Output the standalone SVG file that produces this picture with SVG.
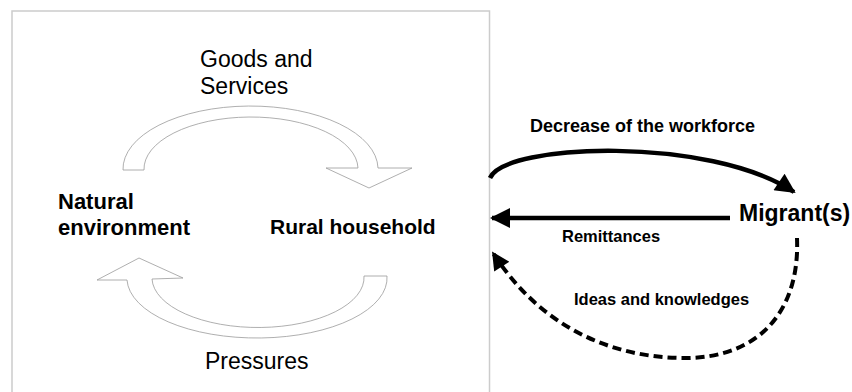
<svg xmlns="http://www.w3.org/2000/svg" width="852" height="392" viewBox="0 0 852 392">
  <style>
    .frame { fill: none; stroke: #cccccc; stroke-width: 1.5; }
    .cycle { fill: #ffffff; stroke: #9a9a9a; stroke-width: 0.8; stroke-linejoin: miter; }
    .lbl { font-family: "Liberation Sans", Arial, Helvetica, sans-serif; fill: #000000; }
    .plain { font-size: 23px; }
    .node { font-size: 23px; font-weight: bold; }
    .small { font-size: 16.5px; font-weight: bold; }
    .flow { fill: none; stroke: #000000; stroke-width: 4.5; stroke-linecap: butt; }
    .dashed { stroke-dasharray: 9 5; stroke-width: 4; }
  </style>
  <defs>
    <marker id="head" viewBox="0 0 10 10" refX="9" refY="5" markerUnits="userSpaceOnUse" markerWidth="28" markerHeight="20" orient="auto">
      <path d="M0,0 L10,5 L0,10 Z" fill="#000000"/>
    </marker>
    <marker id="headDash" viewBox="0 0 10 10" refX="9" refY="5" markerUnits="userSpaceOnUse" markerWidth="24" markerHeight="18" orient="auto">
      <path d="M0,0 L10,5 L0,10 Z" fill="#000000"/>
    </marker>
  </defs>

  <!-- household system frame -->
  <rect class="frame" x="12" y="11" width="477.5" height="400"/>

  <!-- inner exchange cycle -->
  <g id="cycle-goods">
    <path class="cycle" d="M123,170 A127.5,63 0 0 1 378,168 L412,168 L369,188 L326,168 L358,168 A107,52 0 0 0 144,170 Z"/>
  </g>
  <g id="cycle-pressures">
    <path class="cycle" d="M387,276 A130,60 0 0 1 127,280 L97,280 L139,258 L183,278 L152,279 A106,50 0 0 0 364,276 Z"/>
  </g>

  <g id="label-goods">
    <text class="lbl plain" x="200" y="67">Goods and</text>
    <text class="lbl plain" x="200" y="94">Services</text>
  </g>
  <g id="label-pressures">
    <text class="lbl plain" x="205" y="369">Pressures</text>
  </g>

  <g id="natural-environment">
    <text class="lbl node" x="58" y="209" style="font-size:22px">Natural</text>
    <text class="lbl node" x="58" y="235" style="font-size:22px">environment</text>
  </g>
  <g id="rural-household">
    <text class="lbl node" x="270" y="234" style="font-size:21px">Rural household</text>
  </g>
  <g id="migrants">
    <text class="lbl node" x="739" y="221">Migrant(s)</text>
  </g>

  <!-- flows between household and migrants -->
  <g id="connectors">
    <path class="flow" d="M490,178 C505,143 710,136 794,192" marker-end="url(#head)"/>
    <path class="flow" d="M730,218 L492,218" marker-end="url(#head)"/>
    <path class="flow dashed" d="M797,238 C800,310 760,358 685,358 C610,358 540,326 493,253" marker-end="url(#headDash)"/>
    <text class="lbl small" x="530" y="132" style="font-size:18px">Decrease of the workforce</text>
    <text class="lbl small" x="562" y="242">Remittances</text>
    <text class="lbl small" x="574" y="305">Ideas and knowledges</text>
  </g>
</svg>
